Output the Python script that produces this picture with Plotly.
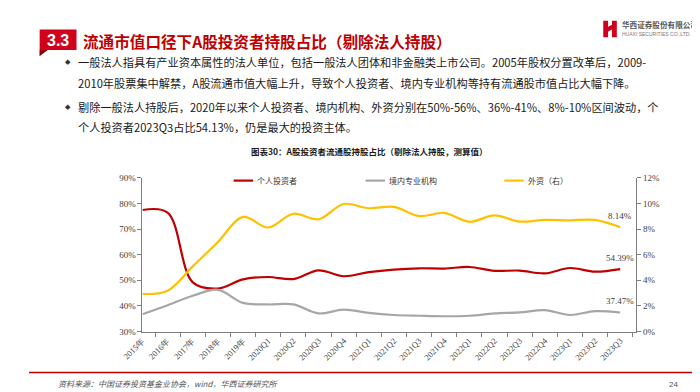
import plotly.graph_objects as go

categories = ["2015年", "2016年", "2017年", "2018年", "2019年",
              "2020Q1", "2020Q2", "2020Q3", "2020Q4",
              "2021Q1", "2021Q2", "2021Q3", "2021Q4",
              "2022Q1", "2022Q2", "2022Q3", "2022Q4",
              "2023Q1", "2023Q2", "2023Q3"]
individual = [77.4, 76.4, 49.2, 46.8, 50.4,
              51.3, 50.5, 53.9, 51.6,
              53.2, 54.2, 54.7, 54.6,
              55.2, 53.7, 53.8, 52.7,
              54.8, 53.4, 54.39]
institution = [36.8, 40.3, 44.0, 46.3, 41.2,
               40.6, 40.6, 37.1, 38.6,
               37.3, 36.5, 36.2, 36.0,
               36.2, 37.1, 37.5, 38.4,
               36.5, 38.0, 37.47]
foreign = [2.94, 3.19, 5.09, 6.99, 8.94,
           8.12, 9.19, 8.76, 9.95,
           9.62, 9.72, 9.01, 9.26,
           8.56, 9.06, 8.58, 8.71,
           8.68, 8.71, 8.14]
series_names = ["个人投资者", "境内专业机构", "外资（右）"]
left_ticks = [30, 40, 50, 60, 70, 80, 90]
right_ticks = [0, 2, 4, 6, 8, 10, 12]

W, H = 700, 392
def px(x):
    return x / W
def py(y):
    return 1 - y / H

RED = "#C00000"
GRAY = "#A6A6A6"
GOLD = "#FFC000"
CJK = "Noto Sans CJK SC"
SERIF = "Liberation Serif"
colors = [RED, GRAY, GOLD]

fig = go.Figure()
fig.add_trace(go.Scatter(x=categories, y=individual, name=series_names[0], mode="lines",
                         line=dict(color=RED, width=2.2, shape="spline", smoothing=1.0)))
fig.add_trace(go.Scatter(x=categories, y=institution, name=series_names[1], mode="lines",
                         line=dict(color=GRAY, width=2.2, shape="spline", smoothing=1.0)))
fig.add_trace(go.Scatter(x=categories, y=foreign, name=series_names[2], mode="lines", yaxis="y2",
                         line=dict(color=GOLD, width=2.2, shape="spline", smoothing=1.0)))

axis_color = "#7F7F7F"
fig.update_layout(
    width=W, height=H,
    margin=dict(l=0, r=0, t=0, b=0),
    paper_bgcolor="white", plot_bgcolor="white",
    showlegend=False,
    xaxis=dict(domain=[px(117), px(626)], type="category", tickangle=-45,
               tickson="boundaries", ticks="outside", ticklen=4, tickcolor=axis_color,
               showline=True, linecolor=axis_color, linewidth=1, showgrid=False,
               tickfont=dict(family=SERIF, size=8.5, color="#404040"), anchor="y"),
    yaxis=dict(domain=[py(327), py(169)], range=[30, 90], tickvals=left_ticks,
               ticktext=[f"{v}%" for v in left_ticks],
               ticks="outside", ticklen=4, tickcolor=axis_color,
               showline=True, linecolor=axis_color, linewidth=1, showgrid=False,
               zeroline=False,
               tickfont=dict(family=SERIF, size=9, color="#404040")),
    yaxis2=dict(overlaying="y", side="right", range=[0, 12], tickvals=right_ticks,
                ticktext=[f"{v}%" for v in right_ticks],
                ticks="outside", ticklen=4, tickcolor=axis_color,
                showline=True, linecolor=axis_color, linewidth=1, showgrid=False,
                zeroline=False, anchor="x",
                tickfont=dict(family=SERIF, size=9, color="#404040")),
)

annotations = []
shapes = []

# legend (drawn manually to match spacing)
legend_x = [211, 347, 490]
for name, c, lx in zip(series_names, colors, legend_x):
    shapes.append(dict(type="line", xref="paper", yref="paper", x0=px(lx), x1=px(lx + 20),
                       y0=py(172), y1=py(172), line=dict(color=c, width=2.2)))
    annotations.append(dict(x=px(lx + 22), y=py(172), xref="paper", yref="paper", xanchor="left",
                            yanchor="middle", text=name, showarrow=False,
                            font=dict(family=CJK, size=8, color="#333333")))

# end-point labels
annotations.append(dict(x=categories[-1], y=individual[-1], xref="x", yref="y",
                        text=f"{individual[-1]:.2f}%", showarrow=False, yshift=11,
                        font=dict(family=SERIF, size=9, color="#404040")))
annotations.append(dict(x=categories[-1], y=institution[-1], xref="x", yref="y",
                        text=f"{institution[-1]:.2f}%", showarrow=False, yshift=11,
                        font=dict(family=SERIF, size=9, color="#404040")))
annotations.append(dict(x=categories[-1], y=foreign[-1], xref="x", yref="y2",
                        text=f"{foreign[-1]:.2f}%", showarrow=False, yshift=11,
                        font=dict(family=SERIF, size=9, color="#404040")))

# slide title
annotations.append(dict(x=px(17), y=py(28), xref="paper", yref="paper", xanchor="left", yanchor="middle",
                        text="<b>3.3</b>", showarrow=False,
                        font=dict(family="Liberation Sans", size=16, color="white")))
annotations.append(dict(x=px(54), y=py(29), xref="paper", yref="paper", xanchor="left", yanchor="middle",
                        text="<b>流通市值口径下A股投资者持股占比（剔除法人持股）</b>", showarrow=False,
                        font=dict(family=CJK, size=15.6, color="#C00000")))
# logo text
annotations.append(dict(x=px(609), y=py(12), xref="paper", yref="paper", xanchor="left", yanchor="middle",
                        text="<b>华西证券股份有限公司</b>", showarrow=False,
                        font=dict(family=CJK, size=7.6, color="#555555")))
annotations.append(dict(x=px(609), y=py(21.5), xref="paper", yref="paper", xanchor="left", yanchor="middle",
                        text="HUAXI SECURITIES CO.,LTD.", showarrow=False,
                        font=dict(family="Liberation Sans", size=5, color="#777777")))

# bullets
bullet_lines = [
    (50, "◆", "一般法人指具有产业资本属性的法人单位，包括一般法人团体和非金融类上市公司。2005年股权分置改革后，2009-"),
    (72, "", "2010年股票集中解禁，A股流通市值大幅上升，导致个人投资者、境内专业机构等持有流通股市值占比大幅下降。"),
    (96, "◆", "剔除一般法人持股后，2020年以来个人投资者、境内机构、外资分别在50%-56%、36%-41%、8%-10%区间波动，个"),
    (117, "", "个人投资者2023Q3占比54.13%，仍是最大的投资主体。"),
]
for yy, b, t in bullet_lines:
    if b:
        annotations.append(dict(x=px(35), y=py(yy), xref="paper", yref="paper", xanchor="left",
                                yanchor="middle", text=b, showarrow=False,
                                font=dict(family="DejaVu Sans", size=7, color="#333333")))
    annotations.append(dict(x=px(48), y=py(yy), xref="paper", yref="paper", xanchor="left",
                            yanchor="middle", text=t, showarrow=False,
                            font=dict(family=CJK, size=11.2, color="#1A1A1A")))

# chart title
annotations.append(dict(x=px(350), y=py(142), xref="paper", yref="paper", xanchor="center", yanchor="middle",
                        text="<b>图表30：A股投资者流通股持股占比（剔除法人持股，测算值）</b>", showarrow=False,
                        font=dict(family=CJK, size=8.5, color="#1A1A1A")))
# footer
annotations.append(dict(x=px(28), y=py(380), xref="paper", yref="paper", xanchor="left", yanchor="middle",
                        text="<i>资料来源：中国证券投资基金业协会，wind，华西证券研究所</i>", showarrow=False,
                        font=dict(family=CJK, size=8, color="#555555")))
annotations.append(dict(x=px(664), y=py(381), xref="paper", yref="paper", xanchor="center", yanchor="middle",
                        text="24", showarrow=False,
                        font=dict(family="Liberation Sans", size=8, color="#555555")))

# title badge
shapes.append(dict(type="path", xref="paper", yref="paper",
                   path=f"M {px(11)} {py(17)} L {px(49)} {py(17)} L {px(49)} {py(38)} L {px(19)} {py(38)} L {px(11)} {py(44)} Z",
                   fillcolor="#D0021B", line=dict(width=0)))
shapes.append(dict(type="path", xref="paper", yref="paper",
                   path=f"M {px(11)} {py(38)} L {px(19)} {py(38)} L {px(11)} {py(44)} Z",
                   fillcolor="#8B0000", line=dict(width=0)))
# logo icon
shapes.append(dict(type="path", xref="paper", yref="paper",
                   path=(f"M {px(592)} {py(8)} L {px(597)} {py(8)} L {px(597)} {py(14)} L {px(601)} {py(12)} "
                         f"L {px(601)} {py(8)} L {px(606)} {py(8)} L {px(606)} {py(25)} L {px(601)} {py(25)} "
                         f"L {px(601)} {py(17)} L {px(597)} {py(19)} L {px(597)} {py(25)} L {px(592)} {py(25)} Z"),
                   fillcolor="#D0021B", line=dict(width=0)))
# footer line
shapes.append(dict(type="line", xref="paper", yref="paper", x0=px(0), x1=px(692), y0=py(369), y1=py(369),
                   line=dict(color="#C00000", width=1.5)))

fig.update_layout(annotations=annotations, shapes=shapes)
fig.write_html("out.html")
